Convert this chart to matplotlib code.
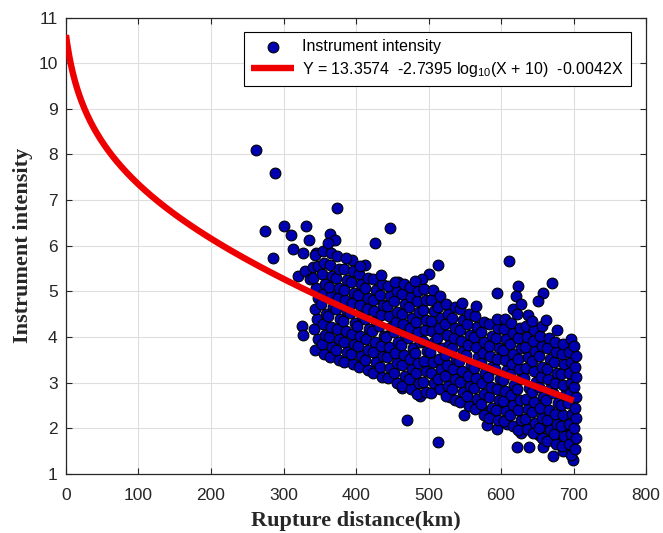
import numpy as np
import matplotlib
matplotlib.use("Agg")
import matplotlib.pyplot as plt

plt.rcParams['font.family'] = ['Liberation Sans', 'DejaVu Sans']
plt.rcParams['mathtext.default'] = 'regular'

# ---- data ----
# sparse points at short distance / upper outliers
dist_sparse = [262, 288, 275, 285, 300, 311, 313, 331, 335, 327, 320, 330, 336, 325, 327,
               341, 345, 374, 364, 371, 426, 447, 412, 394, 513, 500, 491, 611, 670, 624,
               594, 658, 651, 621, 458]
int_sparse = [8.10, 7.60, 6.32, 5.72, 6.43, 6.23, 5.92, 6.43, 6.12, 5.84, 5.33, 5.44, 5.27, 4.24, 4.04,
              5.53, 5.84, 6.82, 6.25, 6.12, 6.07, 6.38, 5.58, 5.69, 5.58, 5.38, 5.27, 5.67, 5.18, 5.11,
              4.96, 4.96, 4.78, 4.89, 5.20]

# lower outliers
dist_low = [470, 513, 549, 581, 594, 608, 628, 622, 638, 658, 672, 686, 699, 699, 653,
            681, 694, 644, 663, 672, 692, 697, 463, 488, 530, 566, 578, 598, 612]
int_low = [2.19, 1.69, 2.30, 2.08, 1.99, 2.09, 1.90, 1.59, 1.59, 1.59, 1.39, 1.51, 1.52, 1.30, 1.85,
           1.70, 1.78, 2.10, 2.03, 1.96, 1.96, 2.03, 2.88, 2.70, 2.68, 2.46, 2.35, 2.46, 2.52]

# dense cloud, column by column
dist_dense = [
    344, 347, 342, 346, 343, 348, 345, 341, 347, 344,
    356, 353, 357, 354, 358, 352, 355, 357, 353, 356, 354,
    364, 367, 363, 366, 362, 368, 365, 363, 367, 364, 366, 362,
    376, 373, 377, 374, 378, 372, 375, 377, 373, 376, 374,
    384, 387, 383, 386, 382, 388, 385, 383, 387, 384, 386,
    396, 393, 397, 394, 398, 392, 395, 397, 393, 396,
    404, 407, 403, 406, 402, 408, 405, 403, 407, 404, 406,
    416, 413, 417, 414, 418, 412, 415, 417, 413, 416,
    424, 427, 423, 426, 422, 428, 425, 423, 427, 424,
    436, 433, 437, 434, 438, 432, 435, 437, 433, 436, 434,
    444, 447, 443, 446, 442, 448, 445, 443, 447, 444,
    456, 453, 457, 454, 458, 452, 455, 457, 453, 456, 454,
    464, 467, 463, 466, 462, 468, 465, 463, 467, 464, 466,
    476, 473, 477, 474, 478, 472, 475, 477, 473, 476, 474,
    484, 487, 483, 486, 482, 488, 485, 483, 487, 484, 486, 482,
    496, 493, 497, 494, 498, 492, 495, 497, 493, 496, 494,
    504, 507, 503, 506, 502, 508, 505, 503, 507, 504, 506,
    516, 513, 517, 514, 518, 512, 515, 517, 513, 516,
    524, 527, 523, 526, 522, 528, 525, 523, 527, 524,
    536, 533, 537, 534, 538, 532, 535, 537, 533, 536,
    544, 547, 543, 546, 542, 548, 545, 543, 547, 544, 546,
    556, 553, 557, 554, 558, 552, 555, 557, 553, 556,
    564, 567, 563, 566, 562, 568, 565, 563, 567, 564, 566,
    576, 573, 577, 574, 578, 572, 575, 577, 573, 576,
    584, 587, 583, 586, 582, 588, 585, 583, 587, 584,
    596, 593, 597, 594, 598, 592, 595, 597, 593, 596, 594,
    604, 607, 603, 606, 602, 608, 605, 603, 607, 604, 606,
    616, 613, 617, 614, 618, 612, 615, 617, 613, 616, 614, 617,
    624, 627, 623, 626, 622, 628, 625, 623, 627, 624, 626, 622, 627,
    636, 633, 637, 634, 638, 632, 635, 637, 633, 636, 634, 637,
    644, 647, 643, 646, 642, 648, 645, 643, 647, 644, 646, 642,
    656, 653, 657, 654, 658, 652, 655, 657, 653, 656, 654, 657,
    664, 667, 663, 666, 662, 668, 665, 663, 667, 664, 666, 662,
    676, 673, 677, 674, 678, 672, 675, 677, 673, 676, 674, 677,
    684, 687, 683, 686, 682, 688, 685, 683, 687, 684, 686,
    696, 693, 697, 694, 698, 692, 695, 697, 693, 696, 694, 697,
    702, 703, 701, 704, 702, 703, 701, 704, 702, 703, 701,
]
int_dense = [
    3.72, 3.95, 4.18, 4.40, 4.62, 4.85, 5.08, 5.30, 5.55, 5.80,
    3.62, 3.85, 4.05, 4.28, 4.50, 4.72, 4.95, 5.15, 5.38, 5.62, 5.88,
    3.55, 3.78, 4.00, 4.22, 4.45, 4.66, 4.90, 5.10, 5.33, 5.58, 5.85, 6.05,
    3.50, 3.72, 3.95, 4.18, 4.40, 4.62, 4.85, 5.08, 5.30, 5.50, 5.78,
    3.45, 3.68, 3.90, 4.12, 4.35, 4.57, 4.80, 5.02, 5.25, 5.48, 5.72,
    3.40, 3.62, 3.85, 4.07, 4.30, 4.52, 4.75, 4.97, 5.20, 5.45,
    3.35, 3.58, 3.80, 4.02, 4.25, 4.47, 4.70, 4.92, 5.15, 5.38, 5.55,
    3.28, 3.50, 3.72, 3.95, 4.18, 4.40, 4.62, 4.85, 5.08, 5.30,
    3.22, 3.45, 3.68, 3.90, 4.12, 4.35, 4.58, 4.80, 5.02, 5.28,
    3.12, 3.35, 3.58, 3.80, 4.02, 4.25, 4.48, 4.70, 4.92, 5.15, 5.35,
    3.10, 3.32, 3.55, 3.78, 4.00, 4.22, 4.45, 4.68, 4.90, 5.12,
    2.98, 3.20, 3.42, 3.65, 3.88, 4.10, 4.32, 4.55, 4.78, 5.00, 5.20,
    2.92, 3.15, 3.38, 3.60, 3.82, 4.05, 4.28, 4.50, 4.72, 4.95, 5.15,
    2.85, 3.08, 3.30, 3.52, 3.75, 3.98, 4.20, 4.42, 4.65, 4.88, 5.10,
    2.75, 2.98, 3.20, 3.42, 3.65, 3.88, 4.10, 4.32, 4.55, 4.78, 5.00, 5.22,
    2.80, 3.02, 3.25, 3.48, 3.70, 3.92, 4.15, 4.38, 4.60, 4.82, 5.05,
    2.78, 3.00, 3.22, 3.45, 3.68, 3.90, 4.12, 4.35, 4.58, 4.80, 5.02,
    2.85, 3.08, 3.30, 3.52, 3.75, 3.98, 4.20, 4.42, 4.65, 4.90,
    2.70, 2.92, 3.15, 3.38, 3.60, 3.82, 4.05, 4.28, 4.50, 4.72,
    2.62, 2.85, 3.08, 3.30, 3.52, 3.75, 3.98, 4.20, 4.42, 4.65,
    2.58, 2.80, 3.02, 3.25, 3.48, 3.70, 3.92, 4.15, 4.38, 4.62, 4.75,
    2.48, 2.70, 2.92, 3.15, 3.38, 3.60, 3.82, 4.05, 4.28, 4.50,
    2.42, 2.65, 2.88, 3.10, 3.32, 3.55, 3.78, 4.00, 4.22, 4.45, 4.68,
    2.30, 2.52, 2.75, 2.98, 3.20, 3.42, 3.65, 3.88, 4.10, 4.32,
    2.22, 2.45, 2.68, 2.90, 3.12, 3.35, 3.58, 3.80, 4.02, 4.28,
    2.18, 2.40, 2.62, 2.85, 3.08, 3.30, 3.52, 3.75, 3.98, 4.20, 4.40,
    2.15, 2.38, 2.60, 2.82, 3.05, 3.28, 3.50, 3.72, 3.95, 4.18, 4.40,
    2.05, 2.28, 2.50, 2.72, 2.95, 3.18, 3.40, 3.62, 3.85, 4.08, 4.30, 4.62,
    1.95, 2.18, 2.40, 2.62, 2.85, 3.08, 3.30, 3.52, 3.75, 3.98, 4.20, 4.50, 4.72,
    1.98, 2.20, 2.42, 2.65, 2.88, 3.10, 3.32, 3.55, 3.78, 4.00, 4.25, 4.48,
    1.90, 2.12, 2.35, 2.58, 2.80, 3.02, 3.25, 3.48, 3.70, 3.92, 4.15, 4.35,
    1.78, 2.00, 2.22, 2.45, 2.68, 2.90, 3.12, 3.35, 3.58, 3.80, 4.02, 4.25,
    1.72, 1.95, 2.18, 2.40, 2.62, 2.85, 3.08, 3.30, 3.52, 3.75, 3.98, 4.38,
    1.65, 1.88, 2.10, 2.32, 2.55, 2.78, 3.00, 3.22, 3.45, 3.68, 3.90, 4.15,
    1.60, 1.82, 2.05, 2.28, 2.50, 2.72, 2.95, 3.18, 3.40, 3.62, 3.85,
    1.42, 1.65, 1.88, 2.10, 2.32, 2.55, 2.78, 3.00, 3.22, 3.45, 3.68, 3.95,
    1.55, 1.78, 2.00, 2.22, 2.45, 2.68, 2.90, 3.12, 3.35, 3.58, 3.80,
]

# fitted relation (coefficients from the legend)
coef_a, coef_b, coef_c = 13.3574, 2.7395, 0.0042
fit_x_max = 700

x_ticks = [0, 100, 200, 300, 400, 500, 600, 700, 800]
y_ticks = [1, 2, 3, 4, 5, 6, 7, 8, 9, 10, 11]

# ---- plot ----
fig = plt.figure(figsize=(6.63, 5.33), dpi=100)
ax = fig.add_axes([0.0995, 0.111, 0.875, 0.856])

xs = np.array(dist_sparse + dist_low + dist_dense, dtype=float)
ys = np.array(int_sparse + int_low + int_dense, dtype=float)

ax.scatter(xs, ys, s=60, c='#0000b0', edgecolors='black', linewidths=0.8,
           zorder=3, label='Instrument intensity')

xf = np.linspace(0, fit_x_max, 500)
yf = coef_a - coef_b * np.log10(xf + 10) - coef_c * xf
ax.plot(xf, yf, color='#ee0000', lw=4.6, zorder=4, solid_capstyle='butt',
        label='Y = 13.3574  -2.7395 log$_{10}$(X + 10)  -0.0042X')

ax.set_xlim(0, 800)
ax.set_ylim(1, 11)
ax.set_xticks(x_ticks)
ax.set_yticks(y_ticks)
ax.tick_params(direction='in', labelsize=12.5, length=4, top=True, right=True,
               labeltop=False, labelright=False, color='#262626', labelcolor='#262626')
ax.tick_params(axis='x', pad=10)
ax.tick_params(axis='y', pad=6)
ax.grid(True, color='#dedede', lw=0.8)
ax.set_axisbelow(True)
for sp in ax.spines.values():
    sp.set_color('#262626')
    sp.set_linewidth(0.9)

ax.set_xlabel('Rupture distance(km)', family=['Liberation Serif'], fontweight='bold',
              fontsize=16, color='#262626', labelpad=6)
ax.set_ylabel('Instrument intensity', family=['Liberation Serif'], fontweight='bold',
              fontsize=16, color='#262626', labelpad=4)

leg = ax.legend(loc='upper right', bbox_to_anchor=(0.974, 0.969), borderaxespad=0,
                fontsize=11.5, frameon=True, fancybox=False, edgecolor='black',
                framealpha=1, handlelength=2.7, handletextpad=0.5,
                borderpad=0.45, labelspacing=0.35)
leg.get_frame().set_linewidth(0.8)

fig.savefig('out.png', dpi=100)
